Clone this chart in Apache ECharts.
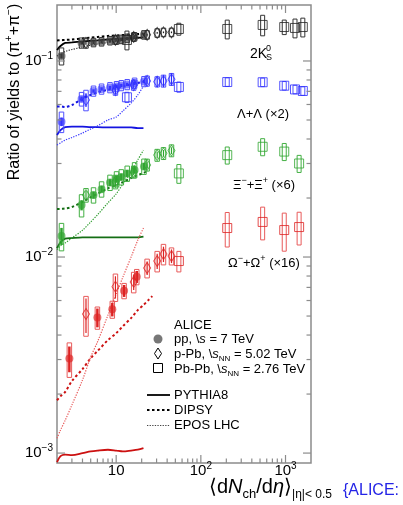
<!DOCTYPE html>
<html><head><meta charset="utf-8">
<script src="https://cdn.jsdelivr.net/npm/echarts@6/dist/echarts.min.js"></script>
<style>html,body{margin:0;padding:0;background:#fff}#c{width:403px;height:505px}</style>
</head><body><div id="c"></div><script>
// Multiplicity classes <dNch/deta>
const ppX = [2.26, 3.90, 5.40, 6.72, 8.45, 10.1, 11.5, 13.5, 16.5, 21.3];
const ppOmegaX = [2.8, 6.0, 9.0, 12.4, 17.5];
const pPbX = [4.4, 9.8, 16.1, 23.2, 30.5, 36.2, 45.0];
const pbpbX = [13.4, 55, 205, 537, 966, 1294, 1601];
const pbpbMultiX = [55, 205, 537, 966, 1448];

// 2K0S / pi
const kPP = [0.106, 0.1236, 0.1243, 0.1254, 0.127, 0.128, 0.129, 0.1306, 0.133, 0.136];
const kPPsys = [0.10, 0.06, 0.05, 0.05, 0.05, 0.05, 0.05, 0.05, 0.05, 0.05];
const kPPstat = [0.03, 0.02, 0.02, 0.02, 0.02, 0.02, 0.02, 0.02, 0.02, 0.02];
const kPPb = [0.1236, 0.128, 0.1326, 0.136, 0.139, 0.140, 0.140];
const kPPbSys = [0.06, 0.05, 0.05, 0.05, 0.05, 0.05, 0.05];
const kPPbStat = [0.02, 0.01, 0.01, 0.01, 0.01, 0.01, 0.01];
const kPbPb = [0.128, 0.1456, 0.1456, 0.1527, 0.149, 0.1474, 0.149];
const kPbPbSys = [0.11, 0.07, 0.11, 0.12, 0.085, 0.11, 0.11];

// (Lambda + anti-Lambda) x2 / pi
const lPP = [0.049, 0.064, 0.0703, 0.072, 0.0732, 0.0741, 0.075, 0.0759, 0.0772, 0.0786];
const lPPsys = [0.12, 0.08, 0.06, 0.06, 0.06, 0.06, 0.06, 0.06, 0.06, 0.06];
const lPPstat = [0.05, 0.03, 0.02, 0.02, 0.02, 0.02, 0.02, 0.02, 0.02, 0.02];
const lPPb = [0.0633, 0.0711, 0.0754, 0.0791, 0.0784, 0.0791, 0.0807];
const lPPbSys = [0.12, 0.06, 0.06, 0.06, 0.06, 0.07, 0.07];
const lPPbStat = [0.08, 0.05, 0.04, 0.04, 0.06, 0.07, 0.07];
const lPbPb = [0.0653, 0.0737, 0.0781, 0.0779, 0.0748, 0.0716, 0.0703];
const lPbPbSys = [0.06, 0.06, 0.05, 0.05, 0.05, 0.05, 0.05];

// (Xi- + Xi+) x6 / pi
const xPP = [0.0128, 0.0184, 0.0207, 0.0222, 0.024, 0.025, 0.0256, 0.0267, 0.0278, 0.029];
const xPPsys = [0.16, 0.13, 0.09, 0.09, 0.09, 0.09, 0.09, 0.09, 0.09, 0.09];
const xPPstat = [0.10, 0.06, 0.04, 0.04, 0.04, 0.04, 0.04, 0.04, 0.04, 0.04];
const xPPb = [0.0207, 0.0242, 0.0272, 0.0295, 0.0331, 0.0338, 0.0349];
const xPPbSys = [0.08, 0.08, 0.07, 0.07, 0.07, 0.07, 0.07];
const xPPbStat = [0.05, 0.05, 0.04, 0.04, 0.04, 0.04, 0.04];
const xPbPb = [0.0267, 0.0331, 0.0365, 0.0345, 0.030];
const xPbPbSys = [0.11, 0.10, 0.10, 0.10, 0.10];

// (Omega- + Omega+) x16 / pi
const oPP = [0.00304, 0.00492, 0.00541, 0.00673, 0.00793];
const oPPsys = [0.20, 0.13, 0.10, 0.09, 0.09];
const oPPstat = [0.15, 0.11, 0.08, 0.07, 0.07];
const oPPb = [0.00512, 0.00706, 0.00746, 0.00879, 0.00954, 0.01036, 0.01012];
const oPPbSys = [0.23, 0.16, 0.12, 0.11, 0.12, 0.12, 0.10];
const oPPbStat = [0.20, 0.13, 0.09, 0.08, 0.09, 0.09, 0.08];
const oPbPb = [0.00954, 0.01406, 0.0151, 0.01373, 0.01422];
const oPbPbSys = [0.12, 0.20, 0.19, 0.22, 0.19];

// Model curves (pp)
const modelX = [2, 2.2, 2.5, 3, 4, 5, 6, 8, 10, 12, 15, 18, 21];
const dipsyX = [2, 2.2, 2.5, 3, 4, 5, 6, 8, 10, 12, 15, 18, 21, 24, 26.7];
const pythiaK = [0.1138, 0.1193, 0.1236, 0.1243, 0.1258, 0.1268, 0.1275, 0.1287, 0.1295, 0.130, 0.1306, 0.1311, 0.1319];
const dipsyK = [0.1272, 0.1276, 0.128, 0.1287, 0.1302, 0.1318, 0.1326, 0.1342, 0.135, 0.1357, 0.1365, 0.1373, 0.1381, null, null];
const eposK = [0.106, 0.1086, 0.1118, 0.1144, 0.1178, 0.1207, 0.1221, 0.1243, 0.1258, 0.1272, 0.1287, 0.1302, 0.131];
const pythiaL = [0.0419, 0.0444, 0.046, 0.0463, 0.0463, 0.046, 0.046, 0.0458, 0.0458, 0.0458, 0.0458, 0.0455, 0.0455];
const dipsyL = [0.0586, 0.0586, 0.0583, 0.0596, 0.0643, 0.0671, 0.0691, 0.0713, 0.0728, 0.0742, 0.0759, 0.0773, 0.0784, null, null];
const eposL = [0.0373, 0.0382, 0.0395, 0.0407, 0.0429, 0.045, 0.0466, 0.05, 0.0518, 0.0556, 0.061, 0.0671, 0.0746];
const pythiaXi = [0.0111, 0.0119, 0.0124, 0.0125, 0.0126, 0.0126, 0.0126, 0.0126, 0.0126, 0.0126, 0.0126, 0.0126, 0.0127];
const dipsyXi = [0.0176, 0.0176, 0.0177, 0.018, 0.0191, 0.0202, 0.021, 0.0224, 0.0233, 0.0241, 0.0253, 0.0262, 0.0268, 0.0278, null];
const eposXi = [0.0109, 0.0114, 0.0118, 0.0125, 0.0137, 0.0151, 0.0164, 0.0189, 0.021, 0.0236, 0.0271, 0.0313, 0.0351];
const pythiaO = [0.0009, 0.000965, 0.000982, 0.000977, 0.000999, 0.00102, 0.00103, 0.00104, 0.00103, 0.00102, 0.00103, 0.00104, 0.00106];
const dipsyO = [0.00186, 0.00195, 0.00205, 0.00233, 0.00268, 0.00305, 0.00331, 0.00377, 0.00409, 0.00444, 0.00488, 0.00536, 0.00569, 0.00603, 0.00632];
const eposO = [0.00119, 0.00131, 0.00147, 0.00176, 0.00236, 0.00309, 0.00368, 0.00506, 0.00647, 0.0079, 0.01, 0.0122, 0.01405];

// Axis ticks
const xMajorTicks = [10, 100, 1000];
const xMinorTicks = [3, 4, 5, 6, 7, 8, 9, 20, 30, 40, 50, 60, 70, 80, 90, 200, 300, 400, 500, 600, 700, 800, 900];
const yMajorTicks = [0.001, 0.01, 0.1];
const yMinorTicks = [0.002, 0.003, 0.004, 0.005, 0.006, 0.007, 0.008, 0.009, 0.02, 0.03, 0.04, 0.05, 0.06, 0.07, 0.08, 0.09];

const FONT = '"Liberation Sans", Arial, Helvetica, sans-serif';
const frameColor = '#8c8c8c';
const eposDash = [1.3, 1.3];

const chart = echarts.init(document.getElementById('c'), null, {renderer: 'canvas'});

function pairs(xs, ys) {
  const out = [];
  xs.forEach((x, i) => { if (ys[i] != null) out.push([x, ys[i]]); });
  return out;
}

// systematic boxes + statistical bars
function errorSeries(xs, ys, sys, stat, st) {
  return {
    type: 'custom', silent: true, z: 3, animation: false,
    data: xs.map((x, i) => [x, ys[i], sys[i], stat ? stat[i] : 0]),
    renderItem(params, api) {
      const x = api.value(0), y = api.value(1), s = api.value(2), e = api.value(3);
      const c = api.coord([x, y]);
      const top = api.coord([x, y * (1 + s)])[1];
      const bot = api.coord([x, y * (1 - s)])[1];
      const children = [{
        type: 'rect',
        shape: {x: c[0] - st.boxW / 2, y: top, width: st.boxW, height: bot - top},
        style: {fill: 'none', stroke: st.boxColor, lineWidth: 1}
      }];
      if (e) {
        const t = api.coord([x, y * (1 + e)])[1];
        const b = api.coord([x, y * (1 - e)])[1];
        children.push({type: 'line', shape: {x1: c[0], y1: t, x2: c[0], y2: b},
          style: {stroke: st.statColor, lineWidth: st.statW}});
      }
      return {type: 'group', children};
    }
  };
}

function markerSeries(xs, ys, kind, color, fill) {
  const base = {type: 'scatter', silent: true, z: 4, animation: false, data: pairs(xs, ys)};
  if (kind === 'pp') return Object.assign(base, {symbol: 'circle', symbolSize: 8,
    itemStyle: {color: fill}});
  if (kind === 'pPb') return Object.assign(base, {symbol: 'diamond', symbolSize: [7, 11],
    itemStyle: {color: 'rgba(0,0,0,0)', borderColor: color, borderWidth: 1}});
  return Object.assign(base, {symbol: 'rect', symbolSize: 9,
    itemStyle: {color: 'rgba(0,0,0,0)', borderColor: color, borderWidth: 1}});
}

function modelSeries(xs, ys, kind, color) {
  const ls = kind === 'pythia' ? {width: 1.8, type: 'solid'}
           : kind === 'dipsy' ? {width: 2, type: [2.5, 2.5]}
           : {width: 1.2, type: eposDash};
  return {type: 'line', silent: true, z: 2, animation: false, showSymbol: false, symbol: 'none',
    smooth: 0.3, data: pairs(xs, ys), lineStyle: Object.assign({color}, ls)};
}

function tickSeries(values, axis, len) {
  return {
    type: 'custom', silent: true, z: 6, animation: false, clip: false,
    data: values.map(v => axis === 'x' ? [v, 0.01] : [10, v]),
    renderItem(params, api) {
      const cs = params.coordSys;
      const st = {stroke: frameColor, lineWidth: 1.2};
      if (axis === 'x') {
        const px = api.coord([api.value(0), 0.01])[0];
        return {type: 'group', children: [
          {type: 'line', shape: {x1: px, y1: cs.y + cs.height, x2: px, y2: cs.y + cs.height - len}, style: st},
          {type: 'line', shape: {x1: px, y1: cs.y, x2: px, y2: cs.y + len}, style: st}
        ]};
      }
      const py = api.coord([10, api.value(1)])[1];
      return {type: 'group', children: [
        {type: 'line', shape: {x1: cs.x, y1: py, x2: cs.x + len, y2: py}, style: st},
        {type: 'line', shape: {x1: cs.x + cs.width, y1: py, x2: cs.x + cs.width - len, y2: py}, style: st}
      ]};
    }
  };
}

const sp = {
  K: {c: '#222222', fill: 'rgba(70,70,70,0.8)', box: '#333333', m: '#000000', epos: '#333333'},
  L: {c: '#2b2bff', fill: 'rgba(60,60,255,0.75)', box: '#5050ff', m: '#1414e0', epos: '#3a3aff'},
  X: {c: '#2ea52e', fill: 'rgba(50,165,50,0.8)', box: '#44b044', m: '#146e14', epos: '#2c9c2c'},
  O: {c: '#dd2222', fill: 'rgba(220,35,35,0.8)', box: '#e85a5a', m: '#cc1111', epos: '#e85a5a'}
};

const series = [];
function addSpecies(s, ppx, pp, ppSys, ppStat, pPb, pPbSys, pPbStat, pbx, pbpb, pbpbSys) {
  series.push(errorSeries(ppx, pp, ppSys, ppStat, {boxW: 4.5, boxColor: s.box, statColor: s.c, statW: 2.5}));
  series.push(errorSeries(pPbX, pPb, pPbSys, pPbStat, {boxW: 4.5, boxColor: s.box, statColor: s.c, statW: 1.2}));
  series.push(errorSeries(pbx, pbpb, pbpbSys, null, {boxW: 4, boxColor: s.box}));
  series.push(markerSeries(ppx, pp, 'pp', s.c, s.fill));
  series.push(markerSeries(pPbX, pPb, 'pPb', s.c));
  series.push(markerSeries(pbx, pbpb, 'PbPb', s.c));
}
function addModels(s, py, dp, ep) {
  series.push(modelSeries(modelX, py, 'pythia', s.m));
  series.push(modelSeries(dipsyX, dp, 'dipsy', s.m));
  series.push(modelSeries(modelX, ep, 'epos', s.epos));
}
addModels(sp.K, pythiaK, dipsyK, eposK);
addModels(sp.L, pythiaL, dipsyL, eposL);
addModels(sp.X, pythiaXi, dipsyXi, eposXi);
addModels(sp.O, pythiaO, dipsyO, eposO);
addSpecies(sp.K, ppX, kPP, kPPsys, kPPstat, kPPb, kPPbSys, kPPbStat, pbpbX, kPbPb, kPbPbSys);
addSpecies(sp.L, ppX, lPP, lPPsys, lPPstat, lPPb, lPPbSys, lPPbStat, pbpbX, lPbPb, lPbPbSys);
addSpecies(sp.X, ppX, xPP, xPPsys, xPPstat, xPPb, xPPbSys, xPPbStat, pbpbMultiX, xPbPb, xPbPbSys);
addSpecies(sp.O, ppOmegaX, oPP, oPPsys, oPPstat, oPPb, oPPbSys, oPPbStat, pbpbMultiX, oPbPb, oPbPbSys);
series.push(tickSeries(xMajorTicks, 'x', 8));
series.push(tickSeries(xMinorTicks, 'x', 4.5));
series.push(tickSeries(yMajorTicks, 'y', 8));
series.push(tickSeries(yMinorTicks, 'y', 4.5));

function isPow10(v) { const l = Math.log10(v); return Math.abs(l - Math.round(l)) < 1e-6; }

const txt = (x, y, text, extra) => ({type: 'text', x, y, silent: true,
  style: Object.assign({text, fill: '#000', fontFamily: FONT, fontSize: 13, verticalAlign: 'middle'}, extra || {})});

const supRich = {n: {fontSize: 13, fontFamily: FONT, fill: '#000', lineHeight: 18},
                 s: {fontSize: 9, fontFamily: FONT, fill: '#000', verticalAlign: 'top', lineHeight: 9}};
const legRich = {n: {fontSize: 13, fontFamily: FONT, fill: '#000', lineHeight: 18},
                 i: {fontSize: 13, fontFamily: FONT, fontStyle: 'italic', fill: '#000', lineHeight: 18},
                 b: {fontSize: 8, fontFamily: FONT, fill: '#000', verticalAlign: 'bottom', lineHeight: 8}};

const graphic = [
  // y-axis title
  {type: 'text', x: 15, y: 92, rotation: Math.PI / 2, silent: true,
    style: {text: '{n|Ratio of yields to (π}{s|+}{n|+π}{s|−}{n|)}', align: 'center', verticalAlign: 'middle',
      rich: {n: {fontSize: 16, fontFamily: FONT, fill: '#000', lineHeight: 22},
             s: {fontSize: 10, fontFamily: FONT, fill: '#000', verticalAlign: 'top', lineHeight: 11}}}},
  // x-axis title
  {type: 'text', x: 209, y: 487, silent: true,
    style: {text: '{n|⟨d}{i|N}{b|ch}{n|/d}{i|η}{n|⟩}{c||η|< 0.5}', verticalAlign: 'middle',
      rich: {n: {fontSize: 20, fontFamily: FONT, fill: '#000', lineHeight: 28},
             i: {fontSize: 20, fontFamily: FONT, fontStyle: 'italic', fill: '#000', lineHeight: 28},
             b: {fontSize: 13, fontFamily: FONT, fill: '#000', verticalAlign: 'bottom', lineHeight: 13},
             c: {fontSize: 12, fontFamily: FONT, fill: '#000', verticalAlign: 'bottom', lineHeight: 12}}}},
  txt(343, 491, '{ALICE:', {fontSize: 16, fill: '#2424e6'}),
  // species labels
  txt(250, 54, '2K', {fontSize: 14}),
  txt(266, 49, '0', {fontSize: 9}),
  txt(266, 58, 'S', {fontSize: 9}),
  txt(237, 114, 'Λ+Λ (×2)', {fontSize: 13}),
  {type: 'text', x: 233, y: 185, silent: true,
    style: {text: '{n|Ξ}{s|−}{n|+Ξ}{s|+}{n| (×6)}', verticalAlign: 'middle', rich: supRich}},
  {type: 'text', x: 228, y: 263, silent: true,
    style: {text: '{n|Ω}{s|−}{n|+Ω}{s|+}{n| (×16)}', verticalAlign: 'middle', rich: supRich}},
  // legend
  txt(174, 325, 'ALICE'),
  {type: 'circle', shape: {cx: 158, cy: 339, r: 4.5}, style: {fill: '#777'}, silent: true},
  {type: 'text', x: 174, y: 339, silent: true,
    style: {text: '{n|pp, \\}{i|s}{n| = 7 TeV}', verticalAlign: 'middle', rich: legRich}},
  {type: 'polygon', shape: {points: [[158, 348], [161.5, 353.5], [158, 359], [154.5, 353.5]]},
    style: {fill: 'none', stroke: '#000', lineWidth: 1}, silent: true},
  {type: 'text', x: 174, y: 354, silent: true,
    style: {text: '{n|p-Pb, \\}{i|s}{b|NN}{n| = 5.02 TeV}', verticalAlign: 'middle', rich: legRich}},
  {type: 'rect', shape: {x: 153.5, y: 363.5, width: 9, height: 9}, style: {fill: 'none', stroke: '#000', lineWidth: 1}, silent: true},
  {type: 'text', x: 174, y: 369, silent: true,
    style: {text: '{n|Pb-Pb, \\}{i|s}{b|NN}{n| = 2.76 TeV}', verticalAlign: 'middle', rich: legRich}},
  {type: 'line', shape: {x1: 147, y1: 395, x2: 170, y2: 395}, style: {stroke: '#000', lineWidth: 1.8}, silent: true},
  {type: 'line', shape: {x1: 147, y1: 410, x2: 170, y2: 410}, style: {stroke: '#000', lineWidth: 2, lineDash: [2.5, 2.5]}, silent: true},
  {type: 'line', shape: {x1: 147, y1: 425.5, x2: 170, y2: 425.5}, style: {stroke: '#444', lineWidth: 1.2, lineDash: eposDash}, silent: true},
  txt(174, 395, 'PYTHIA8'),
  txt(174, 410, 'DIPSY'),
  txt(174, 425, 'EPOS LHC')
];

chart.setOption({
  animation: false,
  backgroundColor: '#fff',
  grid: {left: 57, right: 92, top: 5, bottom: 42, show: true, borderColor: frameColor, borderWidth: 1.5, backgroundColor: 'transparent'},
  xAxis: {type: 'log', logBase: 10, min: 2, max: 2000,
    axisLine: {show: false}, axisTick: {show: false}, splitLine: {show: false},
    axisLabel: {interval: 0, margin: -2, color: '#000', showMinLabel: true, showMaxLabel: true,
      formatter: v => {
        if (!isPow10(v)) return '';
        const e = Math.round(Math.log10(v));
        return e === 1 ? '{m|10}' : '{m|10}{s|' + e + '}';
      },
      rich: {m: {fontSize: 15, fontFamily: FONT, color: '#000', lineHeight: 20},
             s: {fontSize: 10, fontFamily: FONT, color: '#000', verticalAlign: 'top', lineHeight: 10}}}},
  yAxis: {type: 'log', logBase: 10, min: 0.00089, max: 0.193,
    axisLine: {show: false}, axisTick: {show: false}, splitLine: {show: false},
    axisLabel: {interval: 0, margin: 4, color: '#000', showMinLabel: true, showMaxLabel: true,
      formatter: v => {
        if (!isPow10(v)) return '';
        const e = Math.round(Math.log10(v));
        return '{m|10}{s|−' + (-e) + '}';
      },
      rich: {m: {fontSize: 15, fontFamily: FONT, color: '#000', lineHeight: 20},
             s: {fontSize: 10, fontFamily: FONT, color: '#000', verticalAlign: 'top', lineHeight: 10}}}},
  graphic,
  series
});
</script></body></html>
